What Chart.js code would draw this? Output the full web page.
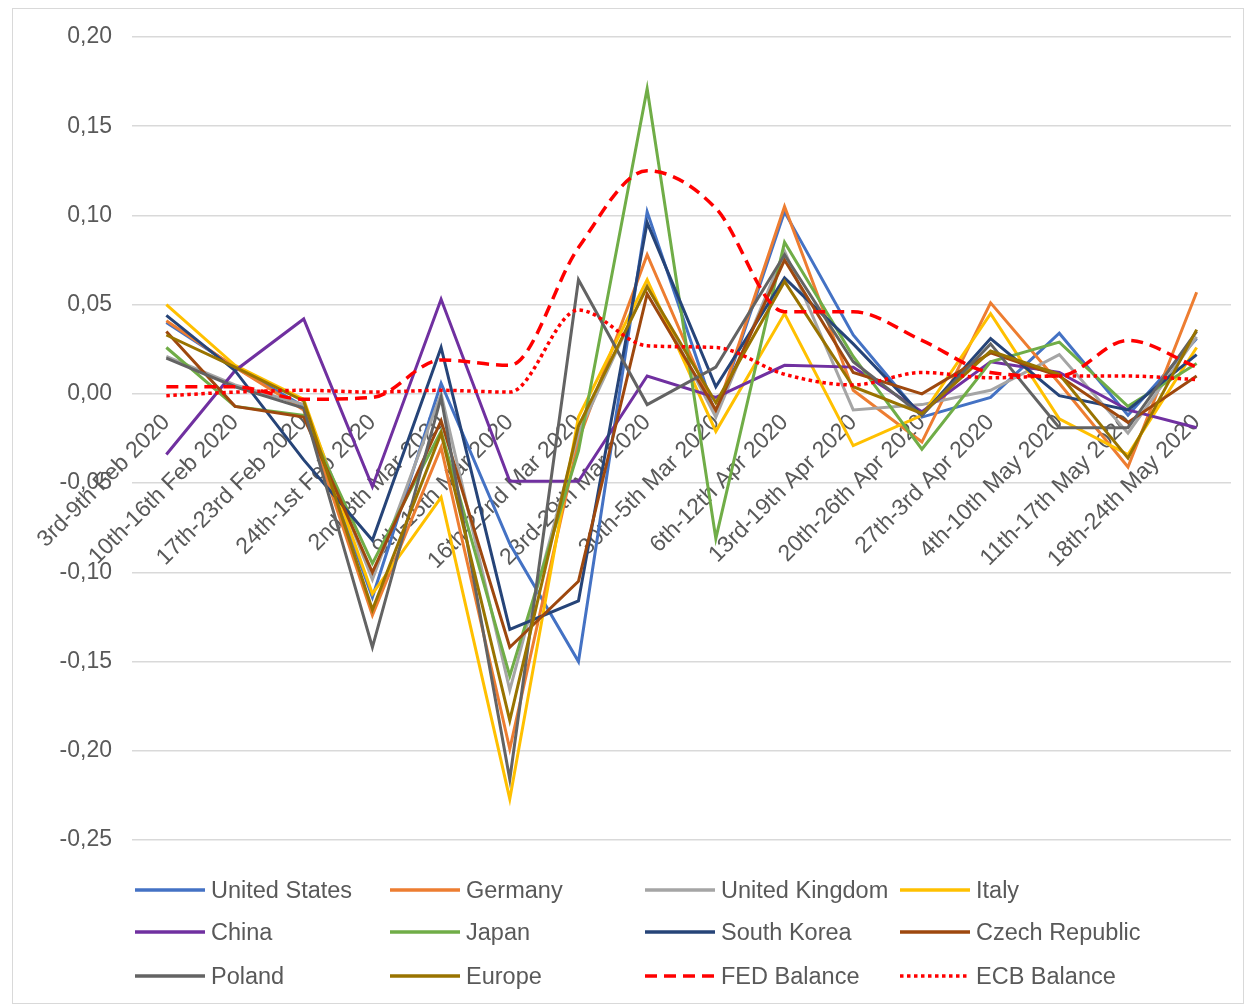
<!DOCTYPE html>
<html><head><meta charset="utf-8">
<script src="https://cdn.jsdelivr.net/npm/chart.js@4.4.1/dist/chart.umd.min.js"></script>
<style>
html,body{margin:0;padding:0;background:#fff;}
#wrap{position:relative;width:1256px;height:1007px;overflow:hidden;}
#frame{position:absolute;left:12px;top:8px;width:1232px;height:996px;border:1px solid #D9D9D9;box-sizing:border-box;pointer-events:none;}
canvas{position:absolute;left:0;top:0;}
#legend{position:absolute;left:0;top:0;width:1256px;height:1007px;pointer-events:none;font-family:"Liberation Sans",Arial,sans-serif;font-size:23.5px;color:#595959;}
.item{position:absolute;height:30px;display:flex;align-items:center;white-space:nowrap;}
.item svg{margin-right:6px;}
</style></head>
<body><div id="wrap"><canvas id="c" width="1256" height="1007"></canvas><div id="legend"></div><div id="frame"></div></div>
<script>
const categories = ["3rd-9th Feb 2020","10th-16th Feb 2020","17th-23rd Feb 2020","24th-1st Feb 2020","2nd-8th Mar 2020","9th-15th Mar 2020","16th-22nd Mar 2020","23rd-29th Mar 2020","30th-5th Mar 2020","6th-12th Apr 2020","13rd-19th Apr 2020","20th-26th Apr 2020","27th-3rd Apr 2020","4th-10th May 2020","11th-17th May 2020","18th-24th May 2020"];

const unitedStates  = [0.040, 0.015, -0.007, -0.114, 0.006, -0.084, -0.150, 0.102, -0.012, 0.102, 0.033, -0.013, -0.002, 0.034, -0.012, 0.031];
const germany       = [0.041, 0.015, -0.009, -0.124, -0.030, -0.199, -0.026, 0.078, -0.011, 0.105, 0.002, -0.027, 0.051, 0.006, -0.041, 0.057];
const unitedKingdom = [0.021, 0.005, -0.006, -0.104, 0.000, -0.166, -0.022, 0.061, -0.013, 0.080, -0.009, -0.006, 0.002, 0.022, -0.022, 0.032];
const italy         = [0.050, 0.016, -0.003, -0.112, -0.058, -0.227, -0.013, 0.064, -0.021, 0.045, -0.029, -0.012, 0.045, -0.014, -0.034, 0.026];
const china         = [-0.034, 0.013, 0.042, -0.052, 0.053, -0.049, -0.049, 0.010, -0.002, 0.016, 0.015, -0.010, 0.018, 0.012, -0.009, -0.019];
const japan         = [0.026, -0.007, -0.012, -0.095, -0.021, -0.158, -0.032, 0.171, -0.081, 0.085, 0.021, -0.031, 0.018, 0.029, -0.007, 0.017];
const southKorea    = [0.044, 0.013, -0.037, -0.082, 0.026, -0.132, -0.116, 0.096, 0.004, 0.065, 0.028, -0.012, 0.031, -0.001, -0.009, 0.022];
const czechRepublic = [0.035, -0.007, -0.013, -0.100, -0.015, -0.142, -0.105, 0.056, -0.009, 0.075, 0.012, 0.000, 0.023, 0.010, -0.016, 0.010];
const poland        = [0.020, 0.004, -0.008, -0.142, -0.002, -0.216, 0.064, -0.006, 0.015, 0.078, 0.018, -0.012, 0.028, -0.019, -0.019, 0.035];
const europe        = [0.033, 0.015, -0.004, -0.121, -0.022, -0.183, -0.018, 0.060, -0.005, 0.063, 0.004, -0.011, 0.024, 0.011, -0.036, 0.036];
const fedBalance    = [0.004, 0.004, -0.003, -0.002, 0.019, 0.016, 0.082, 0.125, 0.104, 0.046, 0.046, 0.030, 0.012, 0.010, 0.030, 0.015];
const ecbBalance    = [-0.001, 0.001, 0.002, 0.001, 0.002, 0.001, 0.047, 0.027, 0.026, 0.011, 0.005, 0.012, 0.009, 0.010, 0.010, 0.008];

const yMin = -0.25, yMax = 0.20, yStep = 0.05;

const seriesDefs = [
  ["United States", unitedStates, "#4472C4", "solid"],
  ["Germany", germany, "#ED7D31", "solid"],
  ["United Kingdom", unitedKingdom, "#A5A5A5", "solid"],
  ["Italy", italy, "#FFC000", "solid"],
  ["China", china, "#7030A0", "solid"],
  ["Japan", japan, "#70AD47", "solid"],
  ["South Korea", southKorea, "#264478", "solid"],
  ["Czech Republic", czechRepublic, "#9E480E", "solid"],
  ["Poland", poland, "#636363", "solid"],
  ["Europe", europe, "#997300", "solid"],
  ["FED Balance", fedBalance, "#FF0000", "dash"],
  ["ECB Balance", ecbBalance, "#FF0000", "dot"]
];

const N = seriesDefs.length;
const datasets = seriesDefs.map(([label, data, color, style], i) => ({
  label, data,
  borderColor: color,
  backgroundColor: color,
  borderWidth: style === "solid" ? 3 : 3.5,
  borderDash: style === "dash" ? [12, 7] : (style === "dot" ? [3.5, 3.5] : []),
  cubicInterpolationMode: style === "solid" ? 'default' : 'monotone',
  tension: 0,
  pointRadius: 0,
  pointHoverRadius: 0,
  fill: false,
  order: N - i,
  lineStyle: style
}));

const font = { family: '"Liberation Sans", Arial, sans-serif', size: 23 };

const chart = new Chart(document.getElementById('c'), {
  type: 'line',
  data: { labels: categories, datasets },
  options: {
    responsive: false,
    animation: false,
    layout: { padding: { left: 0, right: 25, top: 37, bottom: 167 } },
    plugins: { legend: { display: false }, tooltip: { enabled: false } },
    scales: {
      x: {
        type: 'category',
        offset: true,
        position: { y: 0 },
        grid: { display: false, drawTicks: false },
        border: { display: false },
        ticks: {
          autoSkip: false, minRotation: 45, maxRotation: 45,
          color: '#595959', font, padding: 15
        }
      },
      y: {
        min: yMin, max: yMax,
        grid: { color: '#D9D9D9', lineWidth: 1.5, drawTicks: false },
        border: { display: false },
        afterFit: s => { s.width = 132; },
        ticks: {
          stepSize: yStep, color: '#595959', font, padding: 20,
          callback: v => (Math.abs(v) < 1e-9 ? 0 : v).toFixed(2).replace('.', ',')
        }
      }
    }
  }
});

// HTML legend (4 columns) generated from the chart datasets
const legend = document.getElementById('legend');
const rowsY = [890, 932, 976];
chart.data.datasets.forEach((ds, i) => {
  const col = i % 4, row = Math.floor(i / 4);
  const div = document.createElement('div');
  div.className = 'item';
  div.style.left = (135 + col * 255) + 'px';
  div.style.top = (rowsY[row] - 15) + 'px';
  const dash = ds.lineStyle === 'dash' ? 'stroke-dasharray="12 7"' : (ds.lineStyle === 'dot' ? 'stroke-dasharray="3.5 3.5"' : '');
  div.innerHTML = `<svg width="70" height="6"><line x1="0" y1="3" x2="70" y2="3" stroke="${ds.borderColor}" stroke-width="3.5" ${dash}/></svg><span>${ds.label}</span>`;
  legend.appendChild(div);
});
</script>
</body></html>
